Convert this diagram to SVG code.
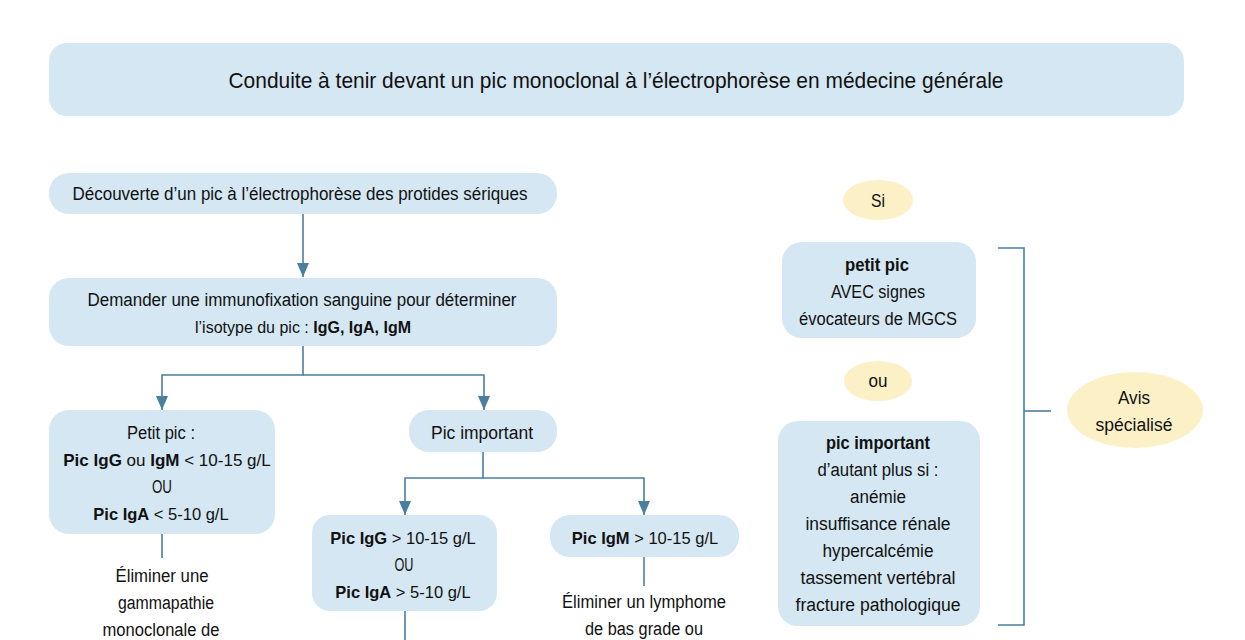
<svg xmlns="http://www.w3.org/2000/svg" width="1245" height="640" viewBox="0 0 1245 640">
<defs>
<style>
.box{fill:#d4e7f2;}
.yel{fill:#fcf0c6;}
.ln{stroke:#4a7fa0;stroke-width:1.6;fill:none;}
text{font-family:"Liberation Sans",Arial,sans-serif;font-size:18px;fill:#111;text-anchor:middle;}
text.m{font-size:16.5px;}
.b{font-weight:bold;}
.title{font-size:22px;}
</style>
<marker id="ah" viewBox="0 0 14 12" refX="14" refY="6" markerWidth="14" markerHeight="12" markerUnits="userSpaceOnUse" orient="auto">
<path d="M0,0 L14,6 L0,12 z" fill="#4a7fa0"/>
</marker>
</defs>
<rect width="1245" height="640" fill="#fff"/>

<g id="title">
<rect class="box" x="49" y="43" width="1135" height="73" rx="18"/>
<text class="title" x="616" y="88" textLength="775" lengthAdjust="spacingAndGlyphs">Conduite à tenir devant un pic monoclonal à l’électrophorèse en médecine générale</text>
</g>

<g id="connectors">
<line class="ln" x1="303" y1="214" x2="303" y2="277" marker-end="url(#ah)"/>
<polyline class="ln" points="303,346 303,375 162,375 162,410" marker-end="url(#ah)"/>
<polyline class="ln" points="303,375 484,375 484,410" marker-end="url(#ah)"/>
<line class="ln" x1="162" y1="534" x2="162" y2="558"/>
<polyline class="ln" points="483,452 483,478 405,478 405,515" marker-end="url(#ah)"/>
<polyline class="ln" points="483,478 644,478 644,515" marker-end="url(#ah)"/>
<line class="ln" x1="405" y1="611" x2="405" y2="640"/>
<line class="ln" x1="644" y1="557" x2="644" y2="586"/>
<polyline class="ln" points="998,248 1024,248 1024,625 998,625"/>
<line class="ln" x1="1024" y1="411" x2="1051" y2="411"/>
</g>

<g id="decouverte">
<rect class="box" x="49" y="173" width="508" height="41" rx="20"/>
<text x="300" y="200" textLength="455" lengthAdjust="spacingAndGlyphs">Découverte d’un pic à l’électrophorèse des protides sériques</text>
</g>

<g id="immunofixation">
<rect class="box" x="49" y="278" width="508" height="68" rx="20"/>
<text x="302" y="306" textLength="429" lengthAdjust="spacingAndGlyphs">Demander une immunofixation sanguine pour déterminer</text>
<text class="m" x="303" y="333" style="font-size:16px">l’isotype du pic : <tspan class="b">IgG, IgA, IgM</tspan></text>
</g>

<g id="petit-pic">
<rect class="box" x="49" y="410" width="226" height="124" rx="20"/>
<text x="161" y="439" textLength="68" lengthAdjust="spacingAndGlyphs">Petit pic :</text>
<text class="m" x="167" y="466" style="font-size:17px"><tspan class="b">Pic IgG</tspan> ou <tspan class="b">IgM</tspan> &lt; 10-15 g/L</text>
<text x="162" y="493" textLength="20" lengthAdjust="spacingAndGlyphs">OU</text>
<text class="m" x="161" y="520"><tspan class="b">Pic IgA</tspan> &lt; 5-10 g/L</text>
</g>

<g id="eliminer-gammapathie">
<text x="162" y="582" textLength="93" lengthAdjust="spacingAndGlyphs">Éliminer une</text>
<text x="166" y="609" textLength="96" lengthAdjust="spacingAndGlyphs">gammapathie</text>
<text x="161" y="636" textLength="117" lengthAdjust="spacingAndGlyphs">monoclonale de</text>
</g>

<g id="pic-important">
<rect class="box" x="409" y="410" width="148" height="42" rx="20"/>
<text x="482" y="439" textLength="102" lengthAdjust="spacingAndGlyphs">Pic important</text>
</g>

<g id="pic-igg-iga">
<rect class="box" x="312" y="515" width="185" height="96" rx="18"/>
<text class="m" x="403" y="544"><tspan class="b">Pic IgG</tspan> &gt; 10-15 g/L</text>
<text x="404" y="571" textLength="19" lengthAdjust="spacingAndGlyphs">OU</text>
<text class="m" x="403" y="598"><tspan class="b">Pic IgA</tspan> &gt; 5-10 g/L</text>
</g>

<g id="pic-igm">
<rect class="box" x="550" y="515" width="189" height="42" rx="20"/>
<text class="m" x="645" y="544"><tspan class="b">Pic IgM</tspan> &gt; 10-15 g/L</text>
</g>

<g id="eliminer-lymphome">
<text x="644" y="608" textLength="164" lengthAdjust="spacingAndGlyphs">Éliminer un lymphome</text>
<text x="644" y="635" textLength="118" lengthAdjust="spacingAndGlyphs">de bas grade ou</text>
</g>

<g id="si">
<ellipse class="yel" cx="878" cy="200" rx="35" ry="20"/>
<text x="878" y="207" textLength="14" lengthAdjust="spacingAndGlyphs">Si</text>
</g>

<g id="petit-pic-mgcs">
<rect class="box" x="782" y="242" width="194" height="96" rx="20"/>
<text class="b" x="877" y="271" textLength="64" lengthAdjust="spacingAndGlyphs">petit pic</text>
<text x="878" y="298" textLength="94" lengthAdjust="spacingAndGlyphs">AVEC signes</text>
<text x="878" y="325" textLength="158" lengthAdjust="spacingAndGlyphs">évocateurs de MGCS</text>
</g>

<g id="ou">
<ellipse class="yel" cx="878" cy="381" rx="34" ry="20"/>
<text x="878" y="387" textLength="19" lengthAdjust="spacingAndGlyphs">ou</text>
</g>

<g id="pic-important-signes">
<rect class="box" x="778" y="421" width="202" height="205" rx="20"/>
<text class="b" x="878" y="449" textLength="104" lengthAdjust="spacingAndGlyphs">pic important</text>
<text x="878" y="476" textLength="121" lengthAdjust="spacingAndGlyphs">d’autant plus si :</text>
<text x="878" y="503" textLength="56" lengthAdjust="spacingAndGlyphs">anémie</text>
<text x="878" y="530" textLength="145" lengthAdjust="spacingAndGlyphs">insuffisance rénale</text>
<text x="878" y="557" textLength="111" lengthAdjust="spacingAndGlyphs">hypercalcémie</text>
<text x="878" y="584" textLength="155" lengthAdjust="spacingAndGlyphs">tassement vertébral</text>
<text x="878" y="611" textLength="165" lengthAdjust="spacingAndGlyphs">fracture pathologique</text>
</g>

<g id="avis">
<ellipse class="yel" cx="1135" cy="410" rx="68" ry="38"/>
<text x="1134" y="404" textLength="32" lengthAdjust="spacingAndGlyphs">Avis</text>
<text x="1134" y="431" textLength="77" lengthAdjust="spacingAndGlyphs">spécialisé</text>
</g>
</svg>
